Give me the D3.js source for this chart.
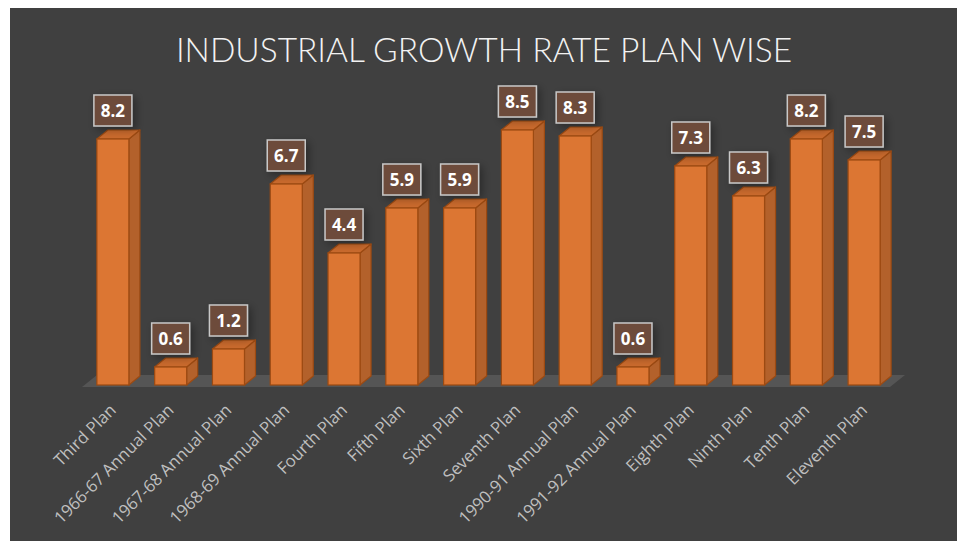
<!DOCTYPE html>
<meta charset="utf-8">
<style>
body { margin: 0; background: #fff; }
svg { display: block; }
</style>
<svg width="959" height="543"></svg>
<script src="https://d3js.org/d3.v7.min.js"></script>
<script>

var plans = ["Third Plan", "1966-67 Annual Plan", "1967-68 Annual Plan", "1968-69 Annual Plan",
  "Fourth Plan", "Fifth Plan", "Sixth Plan", "Seventh Plan", "1990-91 Annual Plan",
  "1991-92 Annual Plan", "Eighth Plan", "Ninth Plan", "Tenth Plan", "Eleventh Plan"];
var growth = [8.2, 0.6, 1.2, 6.7, 4.4, 5.9, 5.9, 8.5, 8.3, 0.6, 7.3, 6.3, 8.2, 7.5];
var title = "INDUSTRIAL GROWTH RATE PLAN WISE";

var svg = d3.select("svg");
var depthX = 11, depthY = 9; // 3d offset of bars

// dark panel
svg.append("rect")
  .attr("x", 10).attr("y", 8)
  .attr("width", 947).attr("height", 533)
  .attr("fill", "#404040");

svg.append("text")
  .attr("x", 484).attr("y", 62)
  .attr("text-anchor", "middle")
  .attr("fill", "#f2f2f2")
  .style("font-family", "Lato, 'Open Sans', sans-serif")
  .style("font-weight", 300)
  .style("font-size", "33.5px")
  .text(title);

var x = d3.scaleBand()
  .domain(plans)
  .range([84, 893])
  .paddingInner(0.446)
  .paddingOuter(0.223);

var y = d3.scaleLinear()
  .domain([0, 8.5])
  .range([385, 130]);

var defs = svg.append("defs");
var f = defs.append("filter").attr("id", "sh").attr("x", "-50%").attr("y", "-50%").attr("width", "200%").attr("height", "200%");
f.append("feGaussianBlur").attr("in", "SourceAlpha").attr("stdDeviation", 4);
f.append("feOffset").attr("dx", 3).attr("dy", 3).attr("result", "b");
f.append("feComponentTransfer").append("feFuncA").attr("type", "linear").attr("slope", 0.35);
var fm = f.append("feMerge");
fm.append("feMergeNode");
fm.append("feMergeNode").attr("in", "SourceGraphic");

// floor
var x0 = x.range()[0] - 2, x1 = x.range()[1] - 3, fy = y(0) + 2;
svg.append("path")
  .attr("d", "M" + x0 + "," + fy + "L" + (x0 + 15) + "," + (fy - 12) +
    "L" + (x1 + 15) + "," + (fy - 12) + "L" + x1 + "," + fy + "Z")
  .attr("fill", "#555555");

var bars = svg.append("g").selectAll("g")
  .data(growth)
  .join("g");

var bw = x.bandwidth();

// side face
bars.append("path")
  .attr("d", function(d, i) {
    var l = x(plans[i]) + bw, t = y(d), b = y(0);
    return "M" + l + "," + t + "L" + (l + depthX) + "," + (t - depthY) +
      "L" + (l + depthX) + "," + (b - depthY) + "L" + l + "," + b + "Z";
  })
  .attr("fill", "#b3612b")
  .attr("stroke", "#9c4a12").attr("stroke-width", 1.2).attr("stroke-linejoin", "round");

// top face
bars.append("path")
  .attr("d", function(d, i) {
    var l = x(plans[i]), t = y(d);
    return "M" + l + "," + t + "L" + (l + depthX) + "," + (t - depthY) +
      "L" + (l + bw + depthX) + "," + (t - depthY) + "L" + (l + bw) + "," + t + "Z";
  })
  .attr("fill", "#c96a2d")
  .attr("stroke", "#9c4a12").attr("stroke-width", 1.2).attr("stroke-linejoin", "round");

// front face
bars.append("rect")
  .attr("x", function(d, i) { return x(plans[i]); })
  .attr("y", function(d) { return y(d); })
  .attr("width", bw)
  .attr("height", function(d) { return y(0) - y(d); })
  .attr("fill", "#dc7633")
  .attr("stroke", "#9c4a12").attr("stroke-width", 1.2);

// value labels
var lab = svg.append("g").selectAll("g")
  .data(growth)
  .join("g")
  .attr("transform", function(d, i) {
    return "translate(" + (x(plans[i]) + bw / 2) + "," + (y(d) - depthY - 4) + ")";
  });

lab.append("rect")
  .attr("x", -19).attr("y", -31)
  .attr("width", 38).attr("height", 31)
  .attr("fill", "#6d4b3a")
  .attr("stroke", "#c8c8c8").attr("stroke-width", 1.5)
  .attr("filter", "url(#sh)");

lab.append("text")
  .attr("y", -9)
  .attr("text-anchor", "middle")
  .attr("fill", "#fff")
  .style("font-family", "'Open Sans', sans-serif")
  .style("font-weight", "bold")
  .style("font-size", "17px")
  .text(function(d) { return d3.format(".1f")(d); });

// category axis
var axis = svg.append("g")
  .attr("transform", "translate(0," + (y(0) + 22) + ")")
  .call(d3.axisBottom(x).tickSize(0).tickPadding(0));
axis.select(".domain").remove();
axis.selectAll("text")
  .attr("fill", "#bfbfbf")
  .style("font-family", "'Open Sans', sans-serif")
  .style("font-size", "16.8px")
  .attr("text-anchor", "end")
  .attr("dy", "0.35em")
  .attr("transform", "translate(0,0) rotate(-45)");

</script>
